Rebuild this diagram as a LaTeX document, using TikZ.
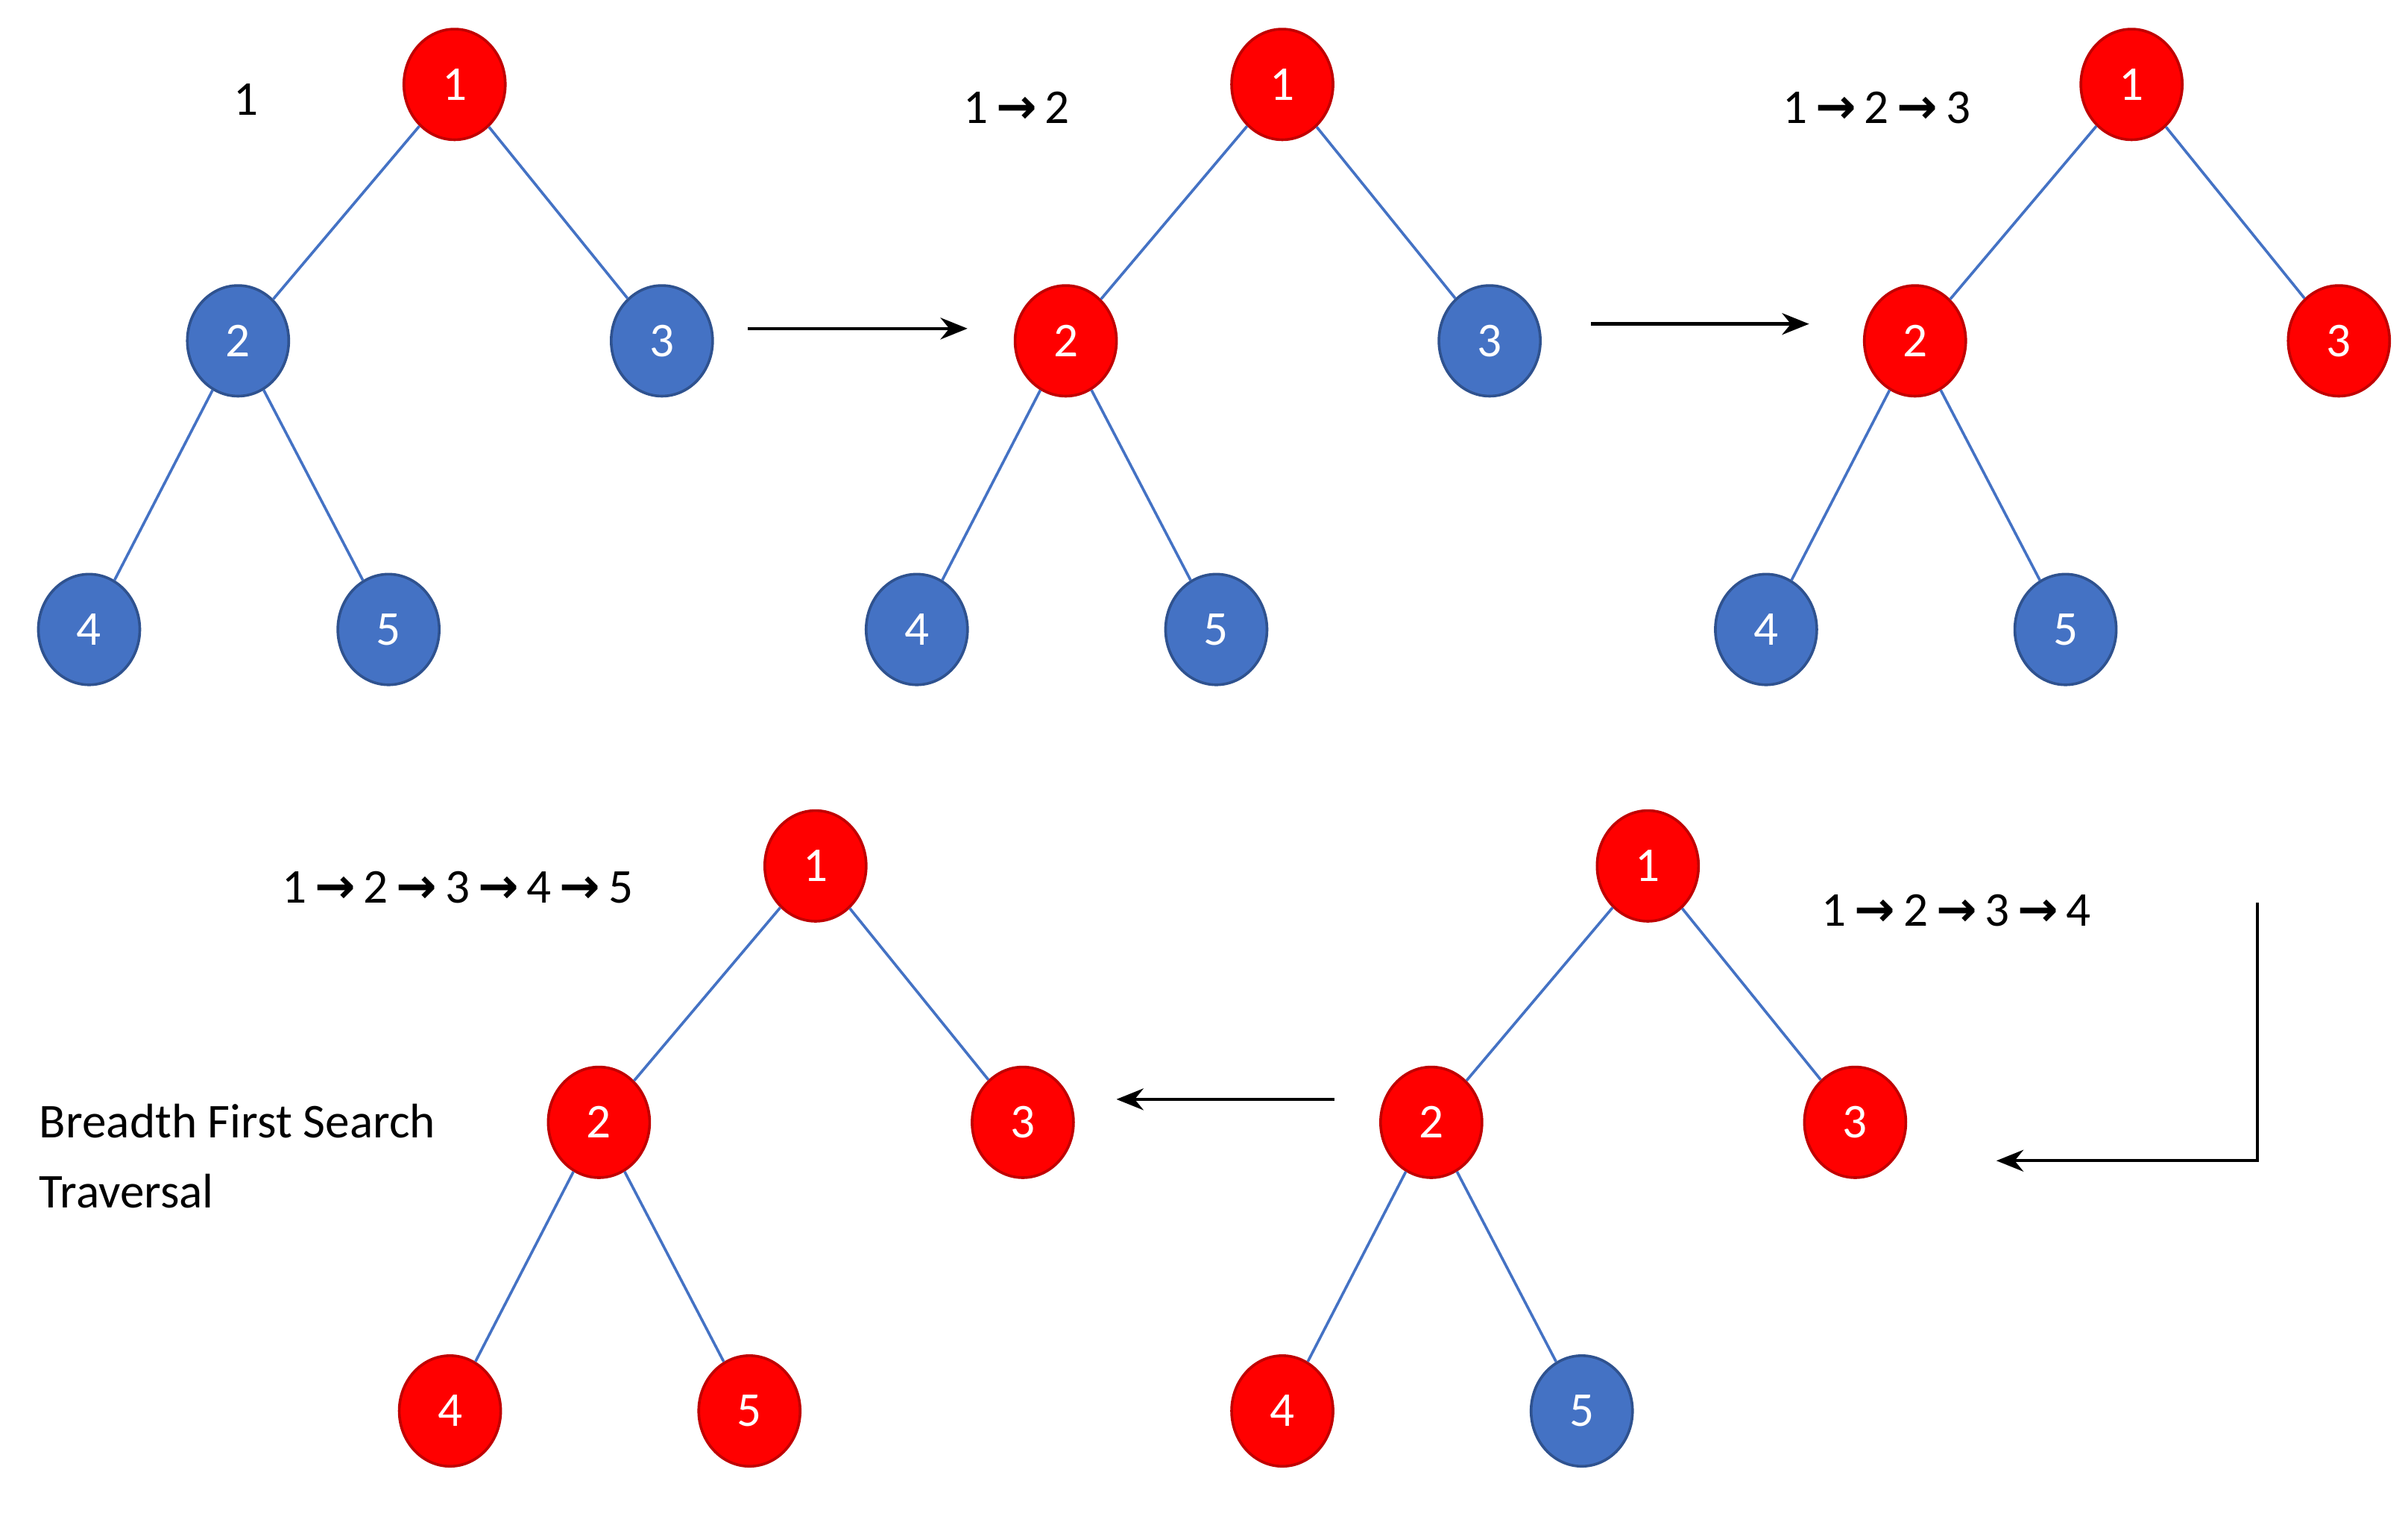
\documentclass[tikz,border=0pt]{standalone}
\usepackage{fontspec}
\setmainfont{Carlito}
\newfontfamily\arr{DejaVu Sans}
\usetikzlibrary{shapes.geometric,arrows.meta}
\definecolor{bl}{HTML}{4472C4}
\definecolor{bld}{HTML}{2F528F}
\definecolor{rdd}{HTML}{C00000}
\newcommand{\ar}{\,{\arr\bfseries →}\,}
\tikzset{x=0.01cm,y=-0.01cm,
 vb/.style={ellipse,minimum width=0.66cm,minimum height=0.72cm,fill=bl,draw=bld,line width=0.5pt,text=white,font=\fontsize{9}{10}\selectfont,inner sep=0pt},
 vr/.style={vb,fill=red,draw=rdd},
 ed/.style={draw=bl,line width=0.5pt},
 lab/.style={font=\fontsize{9}{11}\selectfont,inner sep=0pt},
 ar/.style={-{Stealth[length=5pt,width=4pt]},line width=0.6pt}}
\begin{document}
\begin{tikzpicture}
\useasboundingbox (0,0) rectangle (1568,989);
% tree builder
\newcommand{\tree}[8]{%
 \node[#3] (#8a) at (#1+141,#2) {1};
 \node[#4] (#8b) at (#1,#2+167) {2};
 \node[#5] (#8c) at (#1+276,#2+167) {3};
 \node[#6] (#8d) at (#1-97,#2+355) {4};
 \node[#7] (#8e) at (#1+98,#2+355) {5};
 \draw[ed] (#8a)--(#8b); \draw[ed] (#8a)--(#8c);
 \draw[ed] (#8b)--(#8d); \draw[ed] (#8b)--(#8e);}
\tree{155}{55}{vr}{vb}{vb}{vb}{vb}{A}
\tree{694}{55}{vr}{vr}{vb}{vb}{vb}{B}
\tree{1247}{55}{vr}{vr}{vr}{vb}{vb}{C}
\tree{390}{564}{vr}{vr}{vr}{vr}{vr}{D}
\tree{932}{564}{vr}{vr}{vr}{vr}{vb}{E}
\node[lab] (l1) at (160,65) {1};
\node[lab] (l2) at (662,70) {1\ar 2};
\node[lab] (l3) at (1222,70) {1\ar 2\ar 3};
\node[lab] (l4) at (298,578) {1\ar 2\ar 3\ar 4\ar 5};
\node[lab] (l5) at (1274,593) {1\ar 2\ar 3\ar 4};
\node[lab,anchor=west,align=left] (t) at (25,753) {Breadth First Search\\[2pt]Traversal};
\coordinate (a1) at (487,214); \coordinate (a2) at (630,214);
\coordinate (b1) at (1036,211); \coordinate (b2) at (1178,211);
\coordinate (c1) at (869,716); \coordinate (c2) at (727,716);
\coordinate (d1) at (1470,588); \coordinate (d2) at (1300,756);
\draw[ar] (a1)--(a2);
\draw[ar] (b1)--(b2);
\draw[ar] (c1)--(c2);
\draw[ar] (d1)|-(d2);
\end{tikzpicture}
\end{document}
